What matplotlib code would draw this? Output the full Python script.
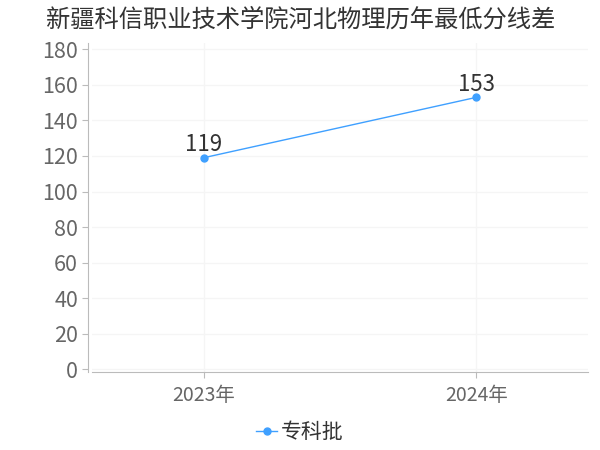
import matplotlib
matplotlib.use("Agg")
import matplotlib.pyplot as plt

plt.rcParams['font.family'] = ['Noto Sans CJK SC', 'DejaVu Sans']

title = "新疆科信职业技术学院河北物理历年最低分线差"
years = ["2023年", "2024年"]
scores = [119, 153]
series_name = "专科批"

line_color = "#3fa0ff"

fig = plt.figure(figsize=(6, 4.5), dpi=100)
ax = fig.add_axes([0.153, 0.173, 0.827, 0.731])

x = list(range(len(years)))
ax.plot(x, scores, color=line_color, linewidth=1, marker="o", markersize=5,
        label=series_name, zorder=3)
for xi, v in zip(x, scores):
    ax.annotate(str(v), (xi, v), xytext=(0, 1), textcoords="offset points",
                ha="center", va="bottom", fontsize=16, color="#333333")

ax.set_xlim(-0.41, 1.41)
ax.set_ylim(-1.7, 183.5)
ax.set_yticks(range(0, 181, 20))
ax.set_xticks(x)
ax.set_xticklabels(years)

ax.grid(True, color="#f5f5f5", linewidth=1)
ax.set_axisbelow(True)
for s in ["top", "right"]:
    ax.spines[s].set_visible(False)
ax.spines["left"].set_color("#bbbbbb")
ax.spines["bottom"].set_color("#bbbbbb")
ax.spines["left"].set_position(("outward", 3))
ax.tick_params(axis="y", colors="#666666", labelsize=15.5, length=4, color="#bbbbbb", pad=3)
ax.tick_params(axis="x", colors="#666666", labelsize=14, length=4, color="#bbbbbb", pad=5)
for lbl in ax.get_xticklabels() + ax.get_yticklabels():
    lbl.set_color("#666666")

fig.text(0.077, 0.957, title, fontsize=17.5, color="#333333", ha="left", va="center")

fig.legend(loc="center", bbox_to_anchor=(0.5, 0.04), frameon=False, fontsize=15,
           handlelength=1.0, handletextpad=0.2, labelcolor="#333333")

fig.savefig("out.png", dpi=100)
